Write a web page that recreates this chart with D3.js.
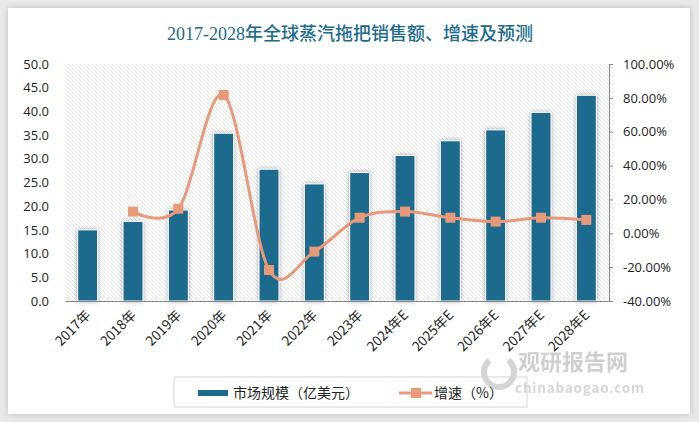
<!DOCTYPE html>
<html><head><meta charset="utf-8">
<script src="https://cdn.jsdelivr.net/npm/d3@7"></script>
<style>
html,body{margin:0;padding:0;background:#e9e9e9;}
svg{display:block;}
text{font-family:"Noto Sans CJK SC","Noto Sans",sans-serif;}
</style></head>
<body><svg id="c" width="699" height="422"></svg>
<script>
const categories = ["2017年","2018年","2019年","2020年","2021年","2022年","2023年","2024年E","2025年E","2026年E","2027年E","2028年E"];
const marketSize = [15.0,16.8,19.2,35.4,27.8,24.7,27.1,30.7,33.8,36.1,39.8,43.4];
const growth = [null,12.8,14.5,81.7,-21.7,-10.8,9.2,12.8,9.2,6.9,9.2,7.9];
const leftTicks = [0,5,10,15,20,25,30,35,40,45,50];
const rightTicks = [-40,-20,0,20,40,60,80,100];
const title = "2017-2028年全球蒸汽拖把销售额、增速及预测";
const legendLabels = ["市场规模（亿美元）","增速（%）"];

const svg = d3.select("#c");
const defs = svg.append("defs");
const cardF = defs.append("filter").attr("id","cardShadow").attr("x","-5%").attr("y","-5%").attr("width","110%").attr("height","110%");
cardF.append("feDropShadow").attr("dx",0).attr("dy",0).attr("stdDeviation",3).attr("flood-color","#999").attr("flood-opacity",0.6);
const barF = defs.append("filter").attr("id","barShadow").attr("x","-40%").attr("y","-10%").attr("width","180%").attr("height","120%");
barF.append("feDropShadow").attr("dx",0).attr("dy",0).attr("stdDeviation",2.2).attr("flood-color","#555").attr("flood-opacity",0.55);
const pat = defs.append("pattern").attr("id","hatch").attr("patternUnits","userSpaceOnUse").attr("width",4).attr("height",4);
pat.append("rect").attr("width",4).attr("height",4).attr("fill","#fff");
pat.append("path").attr("d","M-1,-1 L5,5 M-1,3 L1,5 M3,-1 L5,1").attr("stroke","#e3e3e3").attr("stroke-width",1);

svg.append("rect").attr("x",8).attr("y",8).attr("width",682).attr("height",406).attr("fill","#fff").attr("filter","url(#cardShadow)");

svg.append("text").attr("x",350).attr("y",40).attr("text-anchor","middle")
  .attr("font-size",18).attr("font-weight",500).attr("fill","#1d6b8c")
  .style("font-family","'Liberation Serif','Noto Sans CJK SC',serif").text(title);

const L = 65, R = 609, T = 64, B = 301;
const x = d3.scaleBand().domain(categories).range([L,R]).paddingInner(0.56).paddingOuter(0.28);
const yL = d3.scaleLinear().domain([0,50]).range([B,T]);
const yR = d3.scaleLinear().domain([-40,100]).range([B,T]);

svg.append("rect").attr("x",L).attr("y",T).attr("width",R-L+4).attr("height",B-T).attr("fill","url(#hatch)");

// left axis
const gl = svg.append("g").attr("transform",`translate(${L},0)`)
  .call(d3.axisLeft(yL).tickValues(leftTicks).tickFormat(d3.format(".1f")).tickSize(0).tickPadding(16));
gl.select(".domain").remove();
gl.selectAll("text").attr("font-size",13).attr("fill","#222").style("font-family","'Open Sans','Noto Sans',sans-serif");

// right axis
const gr = svg.append("g").attr("transform",`translate(${R},0)`)
  .call(d3.axisRight(yR).tickValues(rightTicks).tickFormat(d => d.toFixed(2)+"%").tickSize(4).tickPadding(10));
gr.select(".domain").attr("stroke","#888");
gr.selectAll("line").attr("stroke","#888");
gr.selectAll("text").attr("font-size",13).attr("fill","#222").style("font-family","'Open Sans','Noto Sans',sans-serif");

// bars
svg.append("g").selectAll("rect").data(marketSize).join("rect")
  .attr("x",(d,i)=>x(categories[i])).attr("width",x.bandwidth())
  .attr("y",d=>yL(d)).attr("height",d=>B-yL(d))
  .attr("fill","#1c6b8e").attr("stroke","#fff").attr("stroke-width",1)
  .attr("filter","url(#barShadow)");

// x axis
const gx = svg.append("g").attr("transform",`translate(0,${B})`)
  .call(d3.axisBottom(x).tickSize(0).tickPadding(0));
gx.select(".domain").attr("stroke","#888").attr("stroke-width",1.2);
gx.selectAll("text").attr("font-size",13.5).attr("fill","#222")
  .attr("text-anchor","end").attr("dy",0)
  .attr("transform","translate(4,15) rotate(-45)");

// line
const pts = growth.map((g,i)=>({c:categories[i],g})).filter(d=>d.g!==null);
const line = d3.line().x(d=>x(d.c)+x.bandwidth()/2).y(d=>yR(d.g)).curve(d3.curveCardinal.tension(0));
svg.append("path").datum(pts).attr("d",line).attr("fill","none").attr("stroke","#e8997a").attr("stroke-width",3);
svg.append("g").selectAll("rect").data(pts).join("rect")
  .attr("x",d=>x(d.c)+x.bandwidth()/2-5).attr("y",d=>yR(d.g)-5)
  .attr("width",10).attr("height",10).attr("fill","#e8997a");

// watermark
const wm = svg.append("g").attr("opacity",0.35);
wm.append("circle").attr("cx",499).attr("cy",372).attr("r",15).attr("fill","none").attr("stroke","#888").attr("stroke-width",6).attr("stroke-dasharray","60 20");
wm.append("text").attr("x",518).attr("y",370).attr("font-size",22).attr("font-weight",700).attr("fill","#777").text("观研报告网");
wm.append("text").attr("x",515).attr("y",393).attr("font-size",13.5).attr("font-weight",700).attr("fill","#888").attr("letter-spacing",0.8).text("chinabaogao.com");

// legend
const lg = svg.append("g");
lg.append("rect").attr("x",174).attr("y",377).attr("width",353).attr("height",30).attr("fill","none").attr("stroke","#d4d4d4");
lg.append("rect").attr("x",198).attr("y",390).attr("width",30).attr("height",6).attr("fill","#1c6b8e");
lg.append("text").attr("x",233).attr("y",398).attr("font-size",14).attr("fill","#222").text(legendLabels[0]);
lg.append("line").attr("x1",399).attr("x2",432).attr("y1",393).attr("y2",393).attr("stroke","#e8997a").attr("stroke-width",3);
lg.append("rect").attr("x",411).attr("y",388).attr("width",10).attr("height",10).attr("fill","#e8997a");
lg.append("text").attr("x",434).attr("y",398).attr("font-size",14).attr("fill","#222").text(legendLabels[1]);
</script></body></html>
